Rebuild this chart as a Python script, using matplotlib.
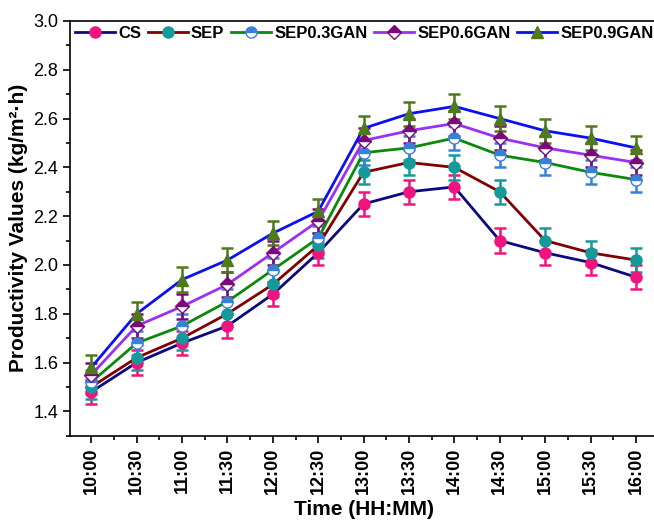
import numpy as np
import matplotlib
matplotlib.use("Agg")
import matplotlib.pyplot as plt
from matplotlib.ticker import MultipleLocator

plt.rcParams["font.family"] = ["Liberation Sans", "DejaVu Sans"]

# Data
times = ["10:00", "10:30", "11:00", "11:30", "12:00", "12:30", "13:00",
         "13:30", "14:00", "14:30", "15:00", "15:30", "16:00"]
cs = [1.48, 1.60, 1.68, 1.75, 1.88, 2.05, 2.25, 2.30, 2.32, 2.10, 2.05, 2.01, 1.95]
sep = [1.50, 1.62, 1.70, 1.80, 1.92, 2.08, 2.38, 2.42, 2.40, 2.30, 2.10, 2.05, 2.02]
sep03 = [1.52, 1.68, 1.75, 1.85, 1.98, 2.11, 2.46, 2.48, 2.52, 2.45, 2.42, 2.38, 2.35]
sep06 = [1.55, 1.75, 1.83, 1.92, 2.05, 2.18, 2.51, 2.55, 2.58, 2.52, 2.48, 2.45, 2.42]
sep09 = [1.58, 1.80, 1.94, 2.02, 2.13, 2.22, 2.56, 2.62, 2.65, 2.60, 2.55, 2.52, 2.48]
err = [0.05] * 13

x = np.arange(len(times))

# (label, values, line colour, marker, marker colour, fillstyle)
series = [
    ("CS", cs, "#0a0a80", "o", "#f0147e", "full"),
    ("SEP", sep, "#800000", "o", "#159a9a", "full"),
    ("SEP0.3GAN", sep03, "#0a8a0a", "o", "#3a80d8", "top"),
    ("SEP0.6GAN", sep06, "#9a30f0", "D", "#7a0a7a", "top"),
    ("SEP0.9GAN", sep09, "#0a10f0", "^", "#4f7a1a", "full"),
]

fig = plt.figure(figsize=(6.54, 5.25), dpi=100)
ax = fig.add_axes([0.107, 0.17, 0.90, 0.79])

for label, vals, lc, mk, mc, fs in series:
    ax.errorbar(x, vals, yerr=err, fmt="none", ecolor=mc, elinewidth=1.8,
                capsize=4, capthick=1.8, zorder=3)
    ax.plot(x, vals, color=lc, linewidth=2, marker=mk,
            markersize=8 if mk != "D" else 7, markerfacecolor=mc,
            markeredgecolor=mc, markerfacecoloralt="white",
            fillstyle=fs, label=label, zorder=4)

ax.set_xlim(-0.47, 12.5)
ax.set_ylim(1.3, 3.0)
ax.set_xticks(x)
ax.set_xticklabels(times, rotation=90, fontsize=13, fontweight="bold")
ax.xaxis.set_minor_locator(MultipleLocator(0.5))
ax.yaxis.set_major_locator(MultipleLocator(0.2))
ax.yaxis.set_minor_locator(MultipleLocator(0.1))
ax.tick_params(axis="y", labelsize=13)
ax.tick_params(which="major", length=5, width=1.2)
ax.tick_params(which="minor", length=3, width=1.2)
for s in ax.spines.values():
    s.set_linewidth(1.2)

ax.set_xlabel("Time (HH:MM)", fontsize=15, fontweight="bold")
ax.set_ylabel("Productivity Values (kg/m²·h)", fontsize=15, fontweight="bold")

ax.legend(loc="upper center", ncol=5, frameon=False,
          prop={"weight": "bold", "size": 12}, handlelength=2.4,
          handletextpad=0.2, columnspacing=0.4,
          bbox_to_anchor=(0.5, 1.025))

fig.savefig("out.png", dpi=100)
